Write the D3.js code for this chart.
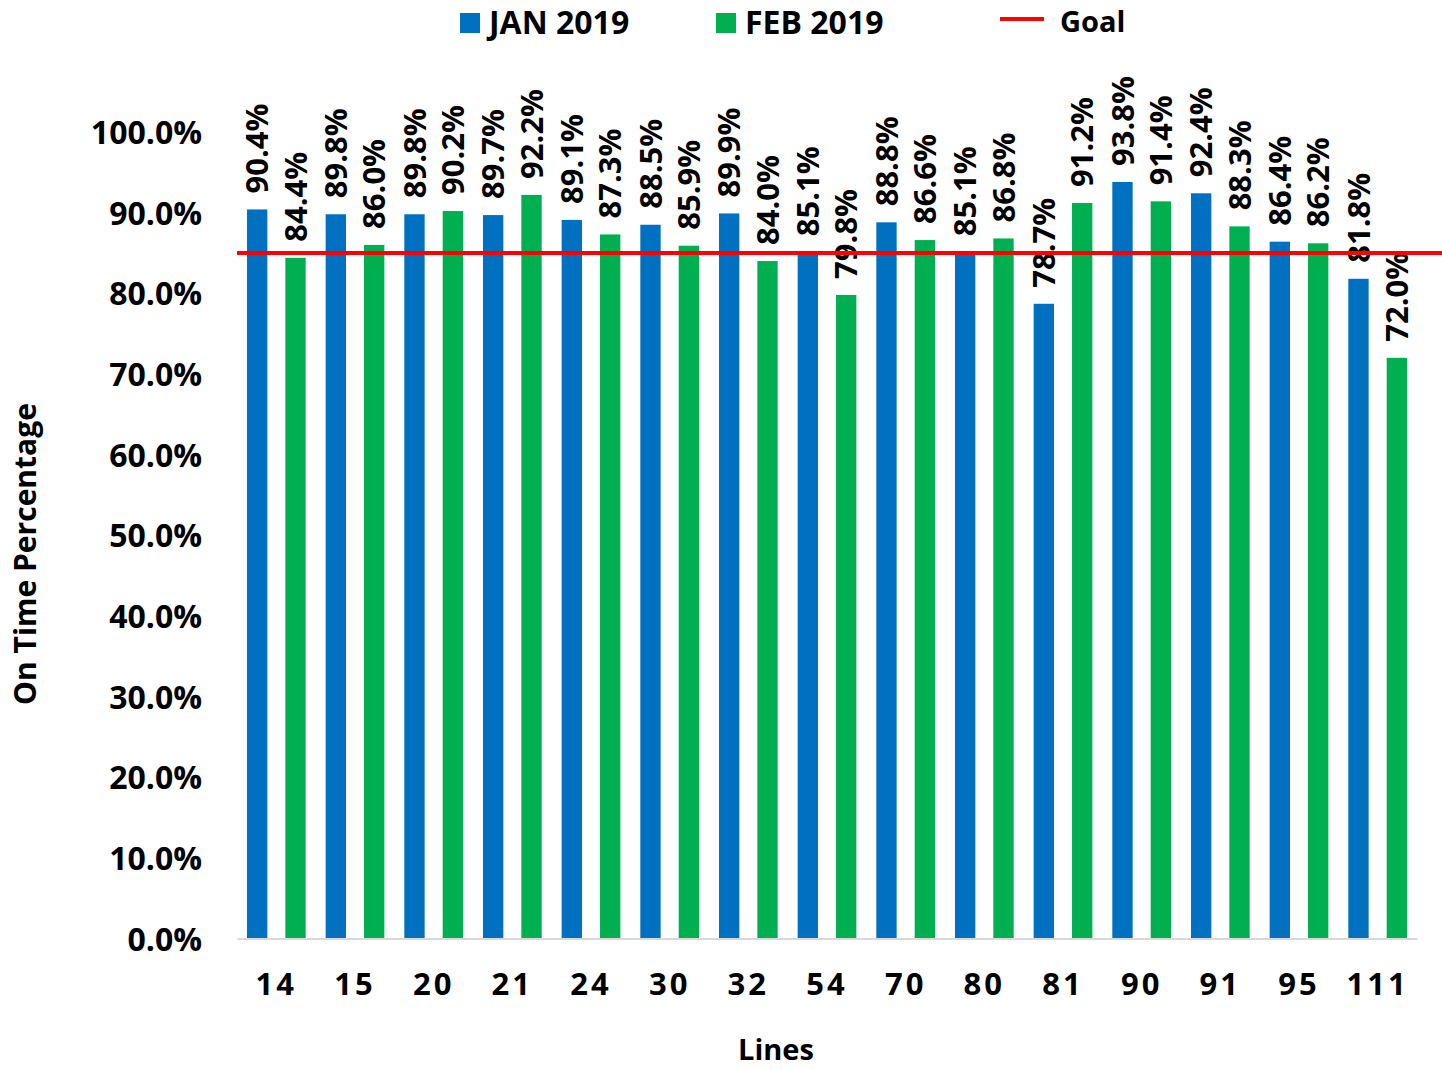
<!DOCTYPE html>
<html>
<head>
<meta charset="utf-8">
<script src="https://cdn.jsdelivr.net/npm/d3@7"></script>
<style>
  body { margin: 0; background: #fff; }
  svg text { font-family: "Open Sans", sans-serif; font-weight: 700; fill: #000; }
</style>
</head>
<body>
<svg id="chart" width="1442" height="1069"></svg>
<script>
// chart values
var lines = ["14", "15", "20", "21", "24", "30", "32", "54", "70", "80", "81", "90", "91", "95", "111"];
var jan2019 = [90.4, 89.8, 89.8, 89.7, 89.1, 88.5, 89.9, 85.1, 88.8, 85.1, 78.7, 93.8, 92.4, 86.4, 81.8];
var feb2019 = [84.4, 86.0, 90.2, 92.2, 87.3, 85.9, 84.0, 79.8, 86.6, 86.8, 91.2, 91.4, 88.3, 86.2, 72.0];
var seriesNames = ["JAN 2019", "FEB 2019"];
var seriesColors = ["#0070C0", "#00B050"];
var goal = 85;
var yTicks = [0, 10, 20, 30, 40, 50, 60, 70, 80, 90, 100];

var svg = d3.select("#chart");
var plot = { left: 237, right: 1417, top: 132, bottom: 938.5 };

var x0 = d3.scaleBand()
  .domain(lines)
  .range([plot.left, plot.right])
  .padding(0);

var x1 = d3.scaleBand()
  .domain(seriesNames)
  .range([0, x0.bandwidth()])
  .paddingInner(0.47)
  .paddingOuter(0.26);

var y = d3.scaleLinear()
  .domain([0, 100])
  .range([plot.bottom, plot.top]);

var rows = lines.map(function(d, i) {
  return { line: d, values: [
    { name: seriesNames[0], value: jan2019[i], color: seriesColors[0] },
    { name: seriesNames[1], value: feb2019[i], color: seriesColors[1] }
  ]};
});

// y axis labels
var yAxis = d3.axisLeft(y)
  .tickValues(yTicks)
  .tickSize(0)
  .tickPadding(35)
  .tickFormat(function(d) { return d.toFixed(1) + "%"; });

svg.append("g")
  .attr("transform", "translate(" + plot.left + ",0)")
  .call(yAxis)
  .call(function(g) { g.select(".domain").remove(); })
  .selectAll("text")
  .style("font-size", "32px")
  .attr("dy", "0.36em");

// bars
var groups = svg.selectAll(".lineGroup")
  .data(rows)
  .enter()
  .append("g")
  .attr("class", "lineGroup")
  .attr("transform", function(d) { return "translate(" + x0(d.line) + ",0)"; });

groups.selectAll("rect")
  .data(function(d) { return d.values; })
  .enter()
  .append("rect")
  .attr("x", function(d) { return x1(d.name); })
  .attr("width", x1.bandwidth())
  .attr("y", function(d) { return y(d.value); })
  .attr("height", function(d) { return y(0) - y(d.value); })
  .attr("fill", function(d) { return d.color; });

// x axis
var xAxis = d3.axisBottom(x0)
  .tickSize(0)
  .tickPadding(34);

svg.append("g")
  .attr("transform", "translate(0," + plot.bottom + ")")
  .call(xAxis)
  .call(function(g) {
    g.select(".domain").attr("stroke", "#D9D9D9").attr("stroke-width", 2);
  })
  .selectAll("text")
  .style("font-size", "31px")
  .style("letter-spacing", "3px");

// goal line
svg.append("line")
  .attr("x1", plot.left)
  .attr("x2", 1442)
  .attr("y1", y(goal))
  .attr("y2", y(goal))
  .attr("stroke", "#FF0000")
  .attr("stroke-width", 4);

// data labels
groups.selectAll(".barLabel")
  .data(function(d) { return d.values; })
  .enter()
  .append("text")
  .attr("class", "barLabel")
  .attr("transform", function(d) {
    return "translate(" + (x1(d.name) + x1.bandwidth() / 2) + "," + (y(d.value) - 16) + ") rotate(-90)";
  })
  .attr("dy", "0.36em")
  .style("font-size", "31px")
  .text(function(d) { return d.value.toFixed(1) + "%"; });

// axis titles
svg.append("text")
  .attr("x", 776)
  .attr("y", 1060)
  .attr("text-anchor", "middle")
  .style("font-size", "29px")
  .text("Lines");

svg.append("text")
  .attr("transform", "translate(36,554) rotate(-90)")
  .attr("text-anchor", "middle")
  .style("font-size", "30px")
  .text("On Time Percentage");

// legend
var legendData = [
  { name: seriesNames[0], color: seriesColors[0], x: 460 },
  { name: seriesNames[1], color: seriesColors[1], x: 716 }
];

var legend = svg.append("g");

legend.selectAll(".legendRect")
  .data(legendData)
  .enter()
  .append("rect")
  .attr("class", "legendRect")
  .attr("x", function(d) { return d.x; })
  .attr("y", 13)
  .attr("width", 20)
  .attr("height", 20)
  .attr("fill", function(d) { return d.color; });

legend.selectAll(".legendText")
  .data(legendData)
  .enter()
  .append("text")
  .attr("class", "legendText")
  .attr("x", function(d) { return d.x + 29; })
  .attr("y", 34)
  .style("font-size", "32px")
  .text(function(d) { return d.name; });

legend.append("line")
  .attr("x1", 1000)
  .attr("x2", 1044)
  .attr("y1", 19)
  .attr("y2", 19)
  .attr("stroke", "#FF0000")
  .attr("stroke-width", 4);

legend.append("text")
  .attr("x", 1060)
  .attr("y", 32)
  .style("font-size", "29px")
  .text("Goal");
</script>
</body>
</html>
